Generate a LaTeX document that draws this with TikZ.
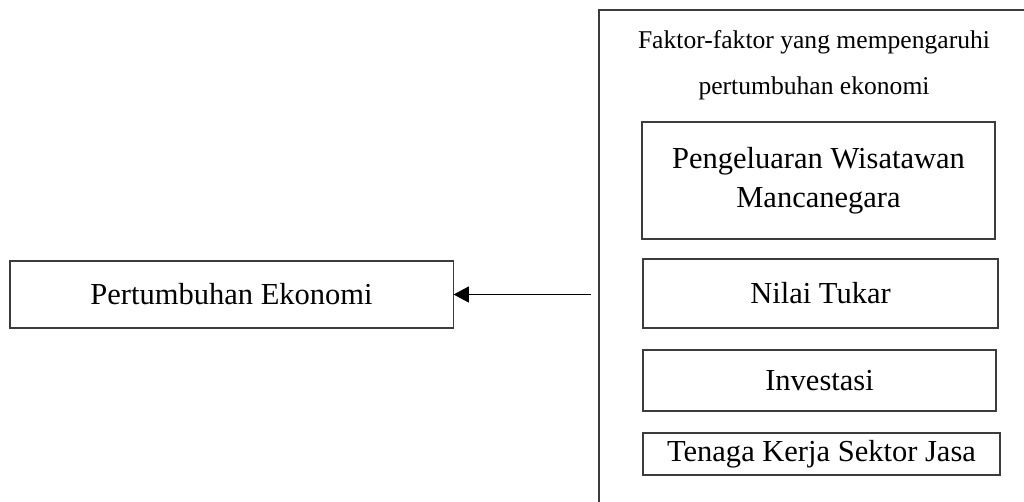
\documentclass[tikz,border=0pt]{standalone}
\usepackage{fontspec}
\setmainfont{Liberation Serif}
\usepackage{xcolor}
\definecolor{garis}{RGB}{60,60,60}
\usepackage{tikz}
\usetikzlibrary{arrows.meta, positioning}

\begin{document}
\begin{tikzpicture}[x=0.025cm, y=-0.025cm,
  kotak/.style={rectangle, draw=garis, line width=0.8pt, align=center,
                font=\fontsize{21.7}{27.7}\selectfont},
  wadah/.style={rectangle, draw=garis, line width=0.9pt},
  judul/.style={align=center, font=\fontsize{18.2}{32.7}\selectfont},
  arr/.style={-{Triangle[length=0.38cm, width=0.4cm]}, line width=0.8pt, color=black}
]
\clip (0,0) rectangle (1024,501);
\node[wadah, minimum width=11.025cm, minimum height=12.75cm] (faktor) at (819.5,265) {};
\node[judul] (judul) at (814,65) {Faktor-faktor yang mempengaruhi\\pertumbuhan ekonomi};

\node[kotak, minimum width=11.075cm, minimum height=1.675cm] (pe) at (231.5,294.5)
  {Pertumbuhan Ekonomi};
\node[kotak, minimum width=8.825cm, minimum height=2.925cm] (wisman) at (818.5,180.5)
  {Pengeluaran Wisatawan\\Mancanegara};
\node[kotak, minimum width=8.875cm, minimum height=1.725cm] (kurs) at (820.5,293.5)
  {Nilai Tukar};
\node[kotak, minimum width=8.825cm, minimum height=1.525cm] (inv) at (819.5,380.5)
  {Investasi};
\node[kotak, minimum width=8.925cm, minimum height=1.05cm] (naker) at (821.5,454)
  {Tenaga Kerja Sektor Jasa};

\draw[arr, shorten <=0.175cm] (faktor.west |- pe.east) -- (pe.east);
\end{tikzpicture}
\end{document}
